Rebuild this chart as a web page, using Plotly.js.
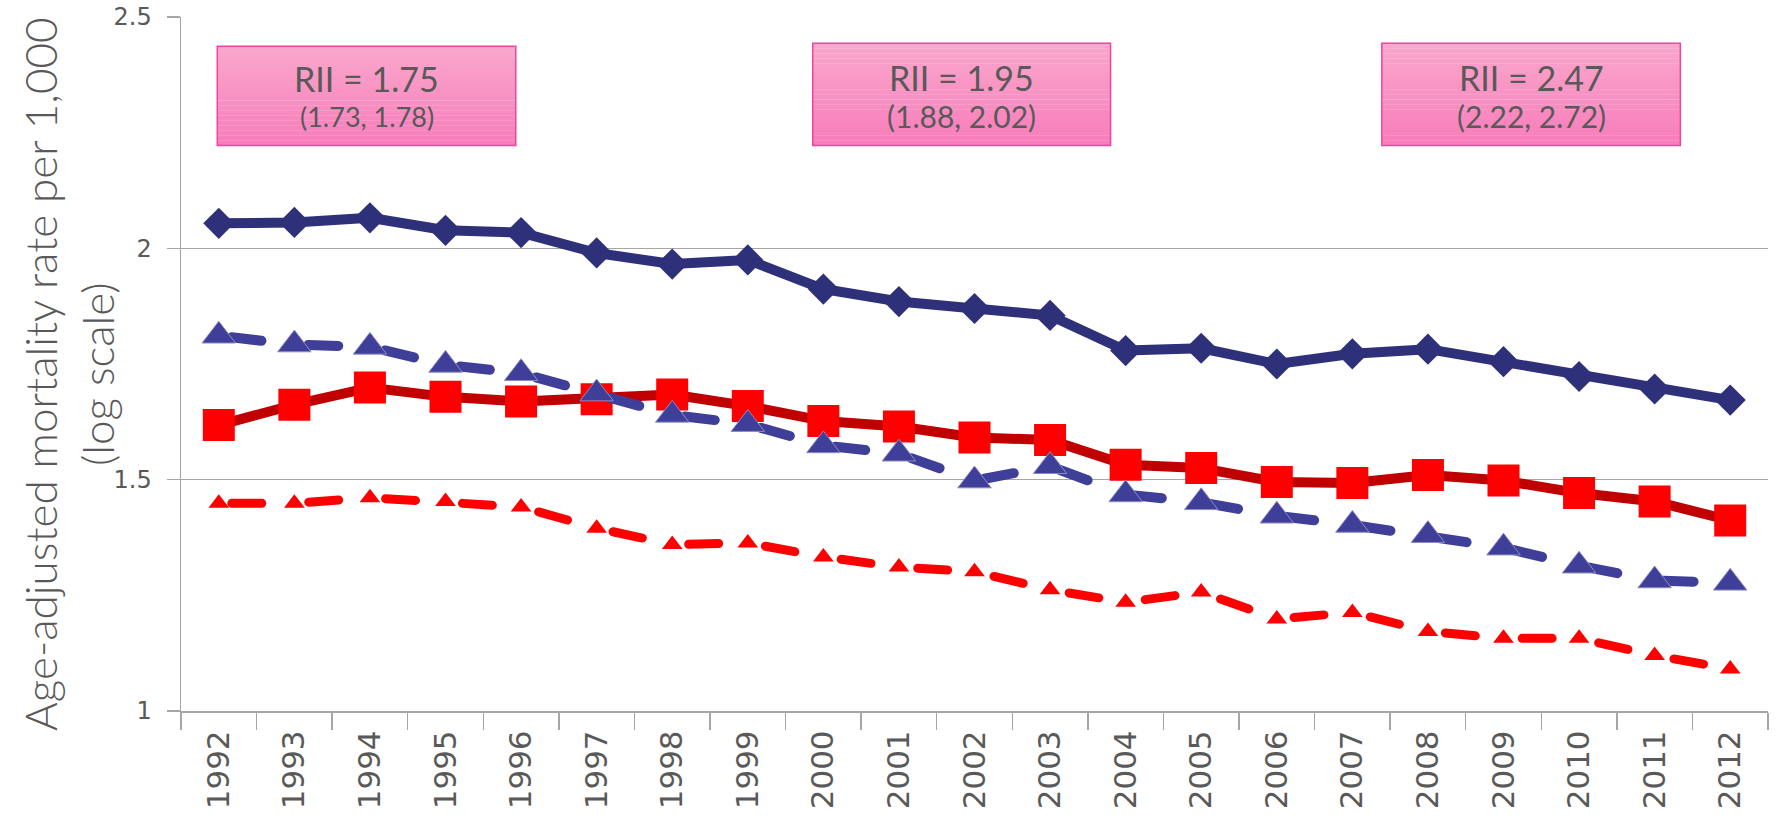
<!DOCTYPE html>
<html>
<head>
<meta charset="utf-8">
<script src="https://cdn.plot.ly/plotly-3.0.1.min.js"></script>
<style>
  html, body { margin: 0; padding: 0; background: #fff; }
  #chart { width: 1779px; height: 838px; }
  .scatterlayer .js-line { stroke-linecap: round; stroke-linejoin: round; stroke-dashoffset: 64px; }
</style>
</head>
<body>
<div id="chart"></div>
<script>
// ---------------- data ----------------
const years = ['1992','1993','1994','1995','1996','1997','1998','1999','2000','2001','2002',
               '2003','2004','2005','2006','2007','2008','2009','2010','2011','2012'];

// navy diamonds, solid line
const seriesNavyDiamond = [2.054, 2.056, 2.066, 2.039, 2.034, 1.990, 1.966, 1.975, 1.912, 1.885, 1.870,
                           1.855, 1.779, 1.784, 1.750, 1.772, 1.782, 1.755, 1.723, 1.696, 1.672];
// red squares, solid dark-red line
const seriesRedSquare   = [1.618, 1.662, 1.699, 1.679, 1.669, 1.674, 1.684, 1.659, 1.627, 1.615, 1.591,
                           1.586, 1.532, 1.525, 1.495, 1.493, 1.510, 1.498, 1.471, 1.453, 1.412];
// blue triangles, dashed line
const seriesBlueTri     = [1.811, 1.792, 1.787, 1.748, 1.730, 1.686, 1.640, 1.620, 1.574, 1.556, 1.498,
                           1.529, 1.468, 1.451, 1.422, 1.402, 1.380, 1.353, 1.314, 1.282, 1.277];
// red small triangles, dashed line
const seriesRedTri      = [1.449, 1.449, 1.461, 1.453, 1.441, 1.395, 1.360, 1.363, 1.333, 1.311, 1.301,
                           1.262, 1.235, 1.257, 1.199, 1.213, 1.172, 1.157, 1.157, 1.120, 1.091];

const yTickVals = [1, 1.5, 2, 2.5];
const yTickText = ['1', '1.5', '2', '2.5'];

const riiMain = ['RII = 1.75', 'RII = 1.95', 'RII = 2.47'];
const riiCI   = ['(1.73, 1.78)', '(1.88, 2.02)', '(2.22, 2.72)'];

const yTitleLines = ['Age-adjusted mortality rate per 1,000', '(log scale)'];

// ---------------- traces ----------------
const traces = [
  {
    x: years, y: seriesNavyDiamond, type: 'scatter', mode: 'lines+markers',
    line: { color: '#2E3179', width: 10 },
    marker: { symbol: 'diamond', size: 24, color: '#2E3179' },
    hoverinfo: 'skip'
  },
  {
    x: years, y: seriesRedSquare, type: 'scatter', mode: 'lines+markers',
    line: { color: '#C00000', width: 10 },
    marker: { symbol: 'square', size: 32, color: '#FF0000' },
    hoverinfo: 'skip'
  },
  {
    x: years, y: seriesBlueTri, type: 'scatter', mode: 'lines+markers',
    line: { color: '#3F3F9A', width: 10, dash: '30px,47px' },
    marker: { symbol: 'triangle-up', size: 29, color: '#3F3F9A', line: { color: '#8C8CC4', width: 1 } },
    hoverinfo: 'skip'
  },
  {
    x: years, y: seriesRedTri, type: 'scatter', mode: 'lines+markers',
    line: { color: '#FF0000', width: 9, dash: '30px,47px' },
    marker: { symbol: 'triangle-up', size: 18, color: '#FF0000' },
    hoverinfo: 'skip'
  }
];

// ---------------- boxes ----------------
const boxDefs = [
  { x0: -0.02, x1: 3.93, y0: 2.222, y1: 2.437, ciSize: 27 },
  { x0: 7.86, x1: 11.80, y0: 2.222, y1: 2.443, ciSize: 30 },
  { x0: 15.39, x1: 19.34, y0: 2.222, y1: 2.443, ciSize: 30 }
];
const shapes = [];
const annotations = [];
const nStripes = 20;
const topCol = [249, 168, 204], botCol = [248, 124, 186];
boxDefs.forEach((b, k) => {
  for (let s = 0; s < nStripes; s++) {
    const t = (s + 0.5) / nStripes;
    const c = topCol.map((v, i) => Math.round(v + (botCol[i] - v) * t));
    const ya = b.y1 - (b.y1 - b.y0) * s / nStripes;
    const yb = b.y1 - (b.y1 - b.y0) * (s + 1) / nStripes;
    shapes.push({ type: 'rect', xref: 'x', yref: 'y', x0: b.x0, x1: b.x1, y0: yb, y1: ya + 0.0005,
      fillcolor: `rgb(${c[0]},${c[1]},${c[2]})`, line: { width: 0 }, layer: 'above' });
  }
  shapes.push({ type: 'rect', xref: 'x', yref: 'y', x0: b.x0, x1: b.x1, y0: b.y0, y1: b.y1,
    fillcolor: 'rgba(0,0,0,0)', line: { color: '#F0449E', width: 1.5 }, layer: 'above' });
  const xc = (b.x0 + b.x1) / 2;
  annotations.push({ xref: 'x', yref: 'y', x: xc, y: b.y1 - (b.y1 - b.y0) * 0.33, text: riiMain[k],
    showarrow: false, xanchor: 'center', yanchor: 'middle',
    font: { family: 'Lato, sans-serif', size: 34, color: '#595959' } });
  annotations.push({ xref: 'x', yref: 'y', x: xc, y: b.y1 - (b.y1 - b.y0) * 0.71, text: riiCI[k],
    showarrow: false, xanchor: 'center', yanchor: 'middle',
    font: { family: 'Lato, sans-serif', size: b.ciSize, color: '#595959' } });
});

// y-axis title as rotated annotation
annotations.push({
  xref: 'paper', yref: 'paper', x: 0, y: 0.5, xanchor: 'center', yanchor: 'middle',
  xshift: -113, yshift: -10, textangle: -90, showarrow: false,
  text: yTitleLines.join('<br>'),
  font: { family: 'Lato, sans-serif', size: 44, weight: 300, color: '#595959' }
});

const layout = {
  width: 1779, height: 838,
  margin: { l: 181, r: 11, t: 17, b: 127, pad: 0 },
  paper_bgcolor: '#ffffff', plot_bgcolor: '#ffffff',
  showlegend: false,
  xaxis: {
    type: 'category', range: [-0.5, 20.5],
    tickson: 'boundaries', ticks: 'outside', ticklen: 17, tickcolor: '#A6A6A6', tickwidth: 1.5,
    showline: true, linecolor: '#A6A6A6', linewidth: 2,
    showgrid: false, zeroline: false,
    tickangle: -90, ticklabelstandoff: 5,
    tickfont: { family: 'DejaVu Sans, sans-serif', size: 31, color: '#595959' },
    fixedrange: true
  },
  yaxis: {
    range: [1, 2.5], tickvals: yTickVals, ticktext: yTickText,
    ticks: 'outside', ticklen: 13, tickcolor: '#A6A6A6', tickwidth: 1.5,
    showline: true, linecolor: '#A6A6A6', linewidth: 1.5,
    showgrid: true, gridcolor: '#A6A6A6', gridwidth: 1.5, zeroline: false,
    ticklabelstandoff: 10,
    tickfont: { family: 'DejaVu Sans, sans-serif', size: 24, color: '#595959' },
    fixedrange: true
  },
  shapes: shapes,
  annotations: annotations
};

Plotly.newPlot('chart', traces, layout, { displayModeBar: false, staticPlot: true });
</script>
</body>
</html>
